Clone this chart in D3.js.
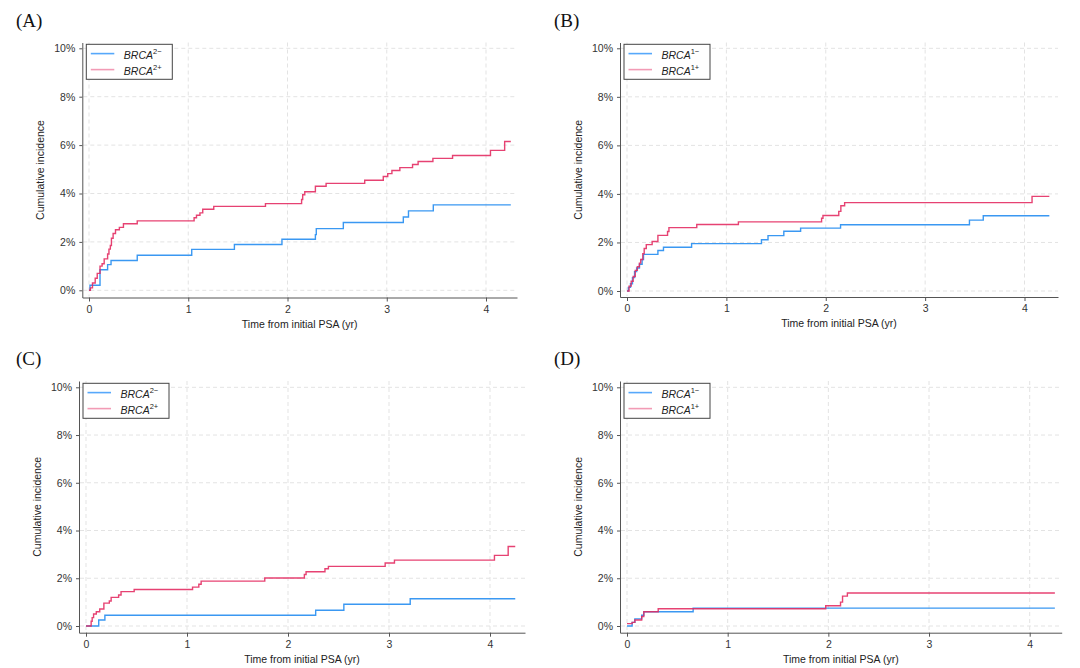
<!DOCTYPE html>
<head>
    <meta charset="utf-8">
    <script src="https://d3js.org/d3.v7.min.js"></script>
    <style>
        *{
            margin:0;
            padding:0;
        }
        html,
        body{
            background: #fff;
            width: 1080px;
            height: 668px;
            overflow: hidden;
        }
        text{
            font-family: 'Liberation Sans', Arial, sans-serif;
        }
        .grid line{
            stroke: #e3e3e3;
            stroke-dasharray: 4,3;
        }
        .axis path,
        .axis line{
            stroke: #555;
        }
        .axis text{
            fill: #333;
            font-size: 10.5px;
        }
    </style>
</head>

<body>
<svg id="viz" width="1080" height="668"></svg>

<script>

    // ---- data (time in yr, cumulative incidence in %)
    const xTicks = [0, 1, 2, 3, 4];
    const yTicks = [0, 2, 4, 6, 8, 10];
    const yTickLabels = ["0%", "2%", "4%", "6%", "8%", "10%"];
    const panelNames = ["(A)", "(B)", "(C)", "(D)"];
    const geneNames = ["2", "1", "2", "1"];

    const aNegTime = [0, 0.01, 0.111, 0.1875, 0.222, 0.486, 1.035, 1.465, 1.944, 2.281, 2.29, 2.5625, 3.167, 3.219, 3.469, 4.25];
    const aNegCum  = [0, 0.21, 0.85, 1.06, 1.23, 1.45, 1.69, 1.89, 2.11, 2.3, 2.55, 2.80, 3.03, 3.28, 3.53, 3.53];
    const aPosTime = [0, 0.014, 0.035, 0.0625, 0.083, 0.111, 0.132, 0.153, 0.1875, 0.201, 0.215, 0.226, 0.243, 0.267, 0.306, 0.347, 0.486, 1.059, 1.083, 1.118, 1.146, 1.257, 1.778, 2.142, 2.153, 2.174, 2.281, 2.389, 2.778, 2.965, 3.01, 3.052, 3.132, 3.26, 3.316, 3.465, 3.663, 4.045, 4.188, 4.25];
    const aPosCum  = [0, 0.1, 0.3, 0.5, 0.7, 1.0, 1.1, 1.3, 1.5, 1.7, 1.85, 2.15, 2.35, 2.5, 2.6, 2.75, 2.87, 3.0, 3.1, 3.2, 3.35, 3.47, 3.58, 3.75, 3.95, 4.07, 4.3, 4.42, 4.55, 4.7, 4.82, 4.95, 5.07, 5.2, 5.32, 5.45, 5.57, 5.78, 6.15, 6.15];

    const bNegTime = [0, 0.014, 0.035, 0.055, 0.076, 0.097, 0.125, 0.152, 0.166, 0.311, 0.367, 0.65, 1.353, 1.419, 1.578, 1.747, 2.149, 3.446, 3.585, 4.25];
    const bNegCum  = [0, 0.15, 0.3, 0.55, 0.8, 0.95, 1.1, 1.3, 1.51, 1.67, 1.80, 1.95, 2.11, 2.28, 2.46, 2.59, 2.73, 2.92, 3.10, 3.10];
    const bPosTime = [0, 0.021, 0.042, 0.062, 0.083, 0.104, 0.125, 0.138, 0.159, 0.173, 0.194, 0.253, 0.311, 0.408, 0.422, 0.702, 1.121, 1.958, 1.972, 2.131, 2.152, 2.19, 4.076, 4.25];
    const bPosCum  = [0, 0.2, 0.4, 0.6, 0.85, 1.0, 1.15, 1.3, 1.54, 1.75, 1.91, 2.04, 2.29, 2.45, 2.61, 2.74, 2.85, 3.0, 3.11, 3.28, 3.51, 3.64, 3.90, 3.90];

    const cNegTime = [0, 0.126, 0.187, 2.274, 2.553, 3.21, 4.25];
    const cNegCum  = [0, 0.25, 0.45, 0.66, 0.91, 1.14, 1.14];
    const cPosTime = [0, 0.051, 0.061, 0.075, 0.102, 0.136, 0.177, 0.231, 0.249, 0.323, 0.347, 0.477, 1.055, 1.117, 1.14, 1.77, 2.162, 2.179, 2.366, 2.4, 2.962, 3.054, 4.044, 4.18, 4.25];
    const cPosCum  = [0, 0.2, 0.35, 0.5, 0.6, 0.71, 0.96, 1.05, 1.2, 1.3, 1.44, 1.53, 1.63, 1.75, 1.88, 2.01, 2.16, 2.27, 2.40, 2.50, 2.64, 2.76, 2.96, 3.33, 3.33];

    const dNegTime = [0, 0.051, 0.078, 0.146, 0.167, 0.657, 4.25];
    const dNegCum  = [0, 0.15, 0.3, 0.45, 0.6, 0.75, 0.75];
    const dPosTime = [0, 0.051, 0.078, 0.146, 0.167, 0.31, 1.974, 2.121, 2.141, 2.189, 4.25];
    const dPosCum  = [0.1, 0.15, 0.25, 0.4, 0.6, 0.72, 0.85, 1.0, 1.25, 1.38, 1.38];

    // ---- panel geometry (px)
    const layout = [
        {axisX: 82.3, x0: 89,  x4: 486,    xEnd: 517,    top: 42.5, y10: 48.3,  y0: 290.3, axisY: 297.5, lx: 16,  ly: 27},
        {axisX: 620,  x0: 627, x4: 1024.5, xEnd: 1058,   top: 42.5, y10: 48.3,  y0: 291,   axisY: 297,   lx: 554, ly: 27},
        {axisX: 79,   x0: 86,  x4: 490,    xEnd: 525,    top: 381,  y10: 387.3, y0: 626,   axisY: 632.7, lx: 16,  ly: 365},
        {axisX: 620,  x0: 627, x4: 1029.7, xEnd: 1061.7, top: 381,  y10: 387.3, y0: 626,   axisY: 632.7, lx: 554, ly: 365}
    ];

    const series = [
        [[aNegTime, aNegCum], [aPosTime, aPosCum]],
        [[bNegTime, bNegCum], [bPosTime, bPosCum]],
        [[cNegTime, cNegCum], [cPosTime, cPosCum]],
        [[dNegTime, dNegCum], [dPosTime, dPosCum]]
    ];

    const curveColor = ["#3a98f2", "#e2285f"];
    const keyColor = ["#56a8fb", "#f29bb5"];
    const signs = ["\u2212", "+"];

    const svg = d3.select("#viz");

    layout.forEach((L, p) => {
        const g = svg.append("g");

        const x = d3.scaleLinear().domain([0, 4]).range([L.x0, L.x4]);
        const y = d3.scaleLinear().domain([0, 10]).range([L.y0, L.y10]);
        // axis scales stretched to the full axis lines
        const xAx = x.copy().domain([x.invert(L.axisX), x.invert(L.xEnd)]).range([L.axisX, L.xEnd]);
        const yAx = y.copy().domain([y.invert(L.axisY), y.invert(L.top)]).range([L.axisY, L.top]);

        // grid
        const grid = g.append("g").attr("class", "grid");
        grid.selectAll("line.v")
            .data(xTicks)
            .join("line")
            .attr("class", "v")
            .attr("x1", d => x(d)).attr("x2", d => x(d))
            .attr("y1", L.top).attr("y2", L.axisY - 1);
        grid.selectAll("line.h")
            .data(yTicks)
            .join("line")
            .attr("class", "h")
            .attr("x1", L.axisX + 1).attr("x2", L.xEnd)
            .attr("y1", d => y(d)).attr("y2", d => y(d));

        // axes
        g.append("g")
            .attr("class", "axis")
            .attr("transform", `translate(0,${L.axisY})`)
            .call(d3.axisBottom(xAx).tickValues(xTicks).tickFormat(d3.format("d"))
                .tickSize(4).tickSizeOuter(0).tickPadding(4));
        g.append("g")
            .attr("class", "axis")
            .attr("transform", `translate(${L.axisX},0)`)
            .call(d3.axisLeft(yAx).tickValues(yTicks).tickFormat((d, i) => yTickLabels[i])
                .tickSize(3).tickSizeOuter(0).tickPadding(4));

        // axis titles
        g.append("text")
            .attr("x", (L.axisX + L.xEnd) / 2)
            .attr("y", L.axisY + 30)
            .attr("text-anchor", "middle")
            .style("font-size", "10.5px")
            .style("fill", "#222")
            .text("Time from initial PSA (yr)");
        g.append("text")
            .attr("transform", `translate(${L.axisX - 38},${(L.top + L.axisY) / 2}) rotate(-90)`)
            .attr("text-anchor", "middle")
            .style("font-size", "10.5px")
            .style("fill", "#222")
            .text("Cumulative incidence");

        // curves
        const line = d3.line()
            .curve(d3.curveStepAfter)
            .x(d => x(d[0]))
            .y(d => y(d[1]));
        series[p].forEach((s, k) => {
            const pts = s[0].map((t, i) => [t, s[1][i]]);
            g.append("path")
                .datum(pts)
                .attr("d", line)
                .attr("fill", "none")
                .attr("stroke", curveColor[k])
                .attr("stroke-width", 1.4)
                .attr("stroke-opacity", k == 1 ? 0.88 : 1);
        });

        // legend
        const lg = g.append("g")
            .attr("transform", `translate(${L.axisX + 4},${L.y10 - 4})`);
        lg.append("rect")
            .attr("width", 86).attr("height", 35)
            .attr("fill", "#fff")
            .attr("stroke", "#444")
            .attr("stroke-width", 1);
        signs.forEach((s, k) => {
            const ry = 9.3 + k * 16;
            lg.append("line")
                .attr("x1", 4.5).attr("x2", 28)
                .attr("y1", ry).attr("y2", ry)
                .attr("stroke", keyColor[k])
                .attr("stroke-width", 1.6);
            const t = lg.append("text")
                .attr("x", 37.5)
                .attr("y", ry + 5)
                .style("font-size", "10.5px")
                .style("fill", "#222");
            t.append("tspan").style("font-style", "italic").text("BRCA");
            t.append("tspan").attr("dy", -4.5).style("font-size", "7.5px").text(geneNames[p] + s);
        });

        // panel letter
        svg.append("text")
            .attr("x", L.lx)
            .attr("y", L.ly)
            .style("font-family", "'Liberation Serif', 'Times New Roman', serif")
            .style("font-size", "19px")
            .style("fill", "#111")
            .text(panelNames[p]);
    });

</script>
</body>
</html>
